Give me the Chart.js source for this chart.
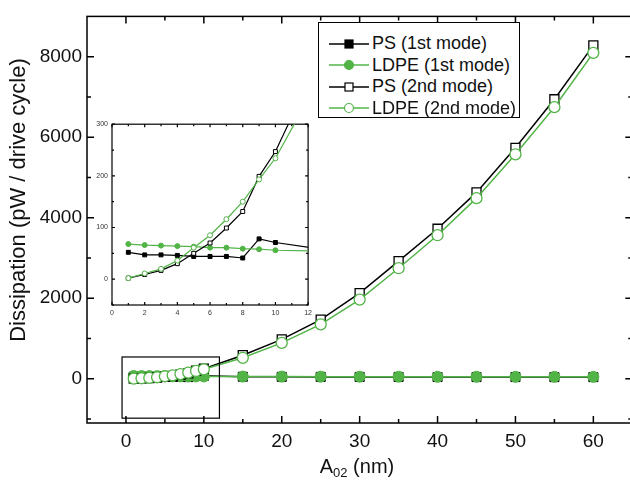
<!DOCTYPE html>
<html>
<head>
<meta charset="utf-8">
<script src="https://cdn.jsdelivr.net/npm/chart.js@4.4.0/dist/chart.umd.min.js"></script>
<style>
  html, body { margin: 0; padding: 0; background: #fff; overflow: hidden; width: 630px; height: 481px; }
  #wrap { position: relative; width: 640px; height: 481px; font-family: "Liberation Sans", Arial, sans-serif; }
  #main { position: absolute; left: 0; top: 0; }
  #inset { position: absolute; left: 90px; top: 116px; }
  #legend {
    position: absolute; left: 318px; top: 22px; width: 202px; height: 96px;
    border: 1px solid #000; box-sizing: border-box; background: #fff;
    font-size: 18px; color: #111; padding-top: 10px;
  }
  #legend .row { height: 21.5px; display: flex; align-items: center; white-space: nowrap; }
  #legend svg { margin-left: 10px; margin-right: 3px; }
  #xtitle { position: absolute; left: 288px; width: 138px; top: 455px; text-align: center; font-size: 20px; color: #111; }
  #xtitle sub { font-size: 13px; vertical-align: -4px; }
</style>
</head>
<body>
<div id="wrap">
  <canvas id="main" width="640" height="481"></canvas>
  <canvas id="inset" width="226" height="206"></canvas>
  <div id="legend"></div>
  <div id="xtitle">A<sub>02</sub> (nm)</div>
</div>
<script>
// amplitude values (nm)
const aValues = [1, 2, 3, 4, 5, 6, 7, 8, 9, 10, 15, 20, 25, 30, 35, 40, 45, 50, 55, 60];

// dissipation (pW / drive cycle)
const ps1st   = [52, 47, 47, 46, 44, 44, 44, 41, 78, 71, 48, 46, 45, 44, 43, 42, 41, 41, 40, 40];
const ldpe1st = [68, 66, 65, 64, 63, 61, 61, 59, 58, 56, 53, 52, 51, 50, 50, 49, 49, 48, 48, 47];
const ps2nd   = [2, 9, 17, 30, 50, 70, 99, 131, 199, 247, 583, 977, 1469, 2125, 2921, 3725, 4628, 5735, 6941, 8280];
const ldpe2nd = [2, 11, 20, 36, 61, 85, 116, 150, 193, 234, 520, 890, 1350, 1965, 2745, 3565, 4485, 5575, 6745, 8095];

const seriesLabels = ['PS (1st mode)', 'LDPE (1st mode)', 'PS (2nd mode)', 'LDPE (2nd mode)'];

// tick values
const xMajor = [0, 10, 20, 30, 40, 50, 60];
const xMinor = [5, 15, 25, 35, 45, 55];
const yMajor = [0, 2000, 4000, 6000, 8000];
const yMinor = [-1000, 1000, 3000, 5000, 7000];
const insetXMajor = [0, 2, 4, 6, 8, 10, 12];
const insetXMinor = [1, 3, 5, 7, 9, 11];
const insetYMajor = [0, 100, 200, 300];
const insetYMinor = [-50, 50, 150, 250];

const BLACK = '#000';
const GREEN = '#52b447';
const FONT = '"Liberation Sans", Arial, sans-serif';
Chart.defaults.font.family = FONT;

const seriesStyle = [
  { values: ps1st, color: BLACK, style: 'rect', open: false },
  { values: ldpe1st, color: GREEN, style: 'circle', open: false },
  { values: ps2nd, color: BLACK, style: 'rect', open: true },
  { values: ldpe2nd, color: GREEN, style: 'circle', open: true },
];

const makeDatasets = (count, sq, circ, lw) => seriesStyle.map((s, i) => ({
  label: seriesLabels[i],
  data: aValues.slice(0, count).map((a, k) => ({ x: a, y: s.values[k] })),
  borderColor: s.color,
  backgroundColor: s.color,
  borderWidth: lw,
  pointStyle: s.style,
  pointRadius: s.style === 'rect' ? sq : circ,
  pointBackgroundColor: s.open ? '#fff' : s.color,
  pointBorderColor: s.color,
  pointBorderWidth: s.open ? 1.3 : 1,
  tension: 0,
  order: 4 - i,
}));

const plain = (v) => String(v);

// box, inward ticks, optional zoom rectangle and rotated y title
const framePlugin = {
  id: 'frame',
  beforeDraw(chart, args, opts) {
    const { ctx, chartArea: a } = chart;
    if (opts.fill) {
      ctx.save();
      ctx.fillStyle = '#fff';
      ctx.fillRect(a.left, a.top, a.right - a.left, a.bottom - a.top);
      ctx.restore();
    }
  },
  beforeDatasetsDraw(chart, args, opts) {
    const { ctx, chartArea: a, scales: { x, y } } = chart;
    ctx.save();
    ctx.strokeStyle = '#000';
    ctx.lineWidth = opts.lw;
    ctx.strokeRect(a.left, a.top, a.right - a.left, a.bottom - a.top);
    ctx.beginPath();
    const xt = (vals, len) => vals.forEach((v) => {
      const p = x.getPixelForValue(v);
      ctx.moveTo(p, a.bottom); ctx.lineTo(p, a.bottom - len);
      ctx.moveTo(p, a.top); ctx.lineTo(p, a.top + len);
    });
    const yt = (vals, len) => vals.forEach((v) => {
      const p = y.getPixelForValue(v);
      ctx.moveTo(a.left, p); ctx.lineTo(a.left + len, p);
      ctx.moveTo(a.right, p); ctx.lineTo(a.right - len, p);
    });
    xt(opts.xMajor, opts.major); xt(opts.xMinor, opts.minor);
    yt(opts.yMajor, opts.major); yt(opts.yMinor, opts.minor);
    ctx.stroke();
    if (opts.ytitle) {
      ctx.fillStyle = '#111';
      ctx.font = `22px ${FONT}`;
      ctx.textAlign = 'center';
      ctx.textBaseline = 'middle';
      ctx.translate(opts.ytitle.x, opts.ytitle.y);
      ctx.rotate(-Math.PI / 2);
      ctx.fillText(opts.ytitle.text, 0, 0);
    }
    ctx.restore();
  },
  afterDatasetsDraw(chart, args, opts) {
    if (!opts.box) return;
    const { ctx, scales: { x, y } } = chart;
    const [x0, x1, y0, y1] = opts.box;
    ctx.save();
    ctx.strokeStyle = '#000';
    ctx.lineWidth = 1.2;
    const l = x.getPixelForValue(x0), r = x.getPixelForValue(x1);
    const t = y.getPixelForValue(y1), b = y.getPixelForValue(y0);
    ctx.strokeRect(l, t, r - l, b - t);
    ctx.restore();
  },
};

new Chart(document.getElementById('main'), {
  type: 'line',
  data: { datasets: makeDatasets(aValues.length, 6.4, 5.5, 1.5) },
  options: {
    responsive: false,
    animation: false,
    layout: { padding: { top: 12, right: 3, left: 0, bottom: 0 } },
    plugins: {
      legend: { display: false },
      tooltip: { enabled: false },
      frame: {
        lw: 1.5, major: 7, minor: 4,
        xMajor, xMinor, yMajor, yMinor,
        box: [-0.5, 12, -980, 540],
        ytitle: { text: 'Dissipation (pW / drive cycle)', x: 19, y: 200 },
      },
    },
    scales: {
      x: {
        type: 'linear', min: -5, max: 65,
        grid: { display: false, drawTicks: false },
        border: { display: false },
        afterBuildTicks: (s) => { s.ticks = xMajor.map((v) => ({ value: v })); },
        afterFit: (s) => { s.height = 58; },
        ticks: { padding: 7, color: '#111', font: { size: 19 }, maxRotation: 0, callback: plain },
      },
      y: {
        type: 'linear', min: -1100, max: 9000,
        grid: { display: false, drawTicks: false },
        border: { display: false },
        afterBuildTicks: (s) => { s.ticks = yMajor.map((v) => ({ value: v })); },
        afterFit: (s) => { s.width = 87; },
        ticks: { padding: 5, color: '#111', font: { size: 19 }, callback: plain },
      },
    },
  },
  plugins: [framePlugin],
});

new Chart(document.getElementById('inset'), {
  type: 'line',
  data: { datasets: makeDatasets(11, 2.8, 2.5, 1.2).map((d) => ({ ...d, clip: 0, pointBorderWidth: 1 })) },
  options: {
    responsive: false,
    animation: false,
    layout: { padding: { top: 6, right: 5, left: 0, bottom: 0 } },
    plugins: {
      legend: { display: false },
      tooltip: { enabled: false },
      frame: {
        lw: 1.2, major: 3, minor: 2, fill: true,
        xMajor: insetXMajor, xMinor: insetXMinor, yMajor: insetYMajor, yMinor: insetYMinor,
      },
    },
    scales: {
      x: {
        type: 'linear', min: 0, max: 12,
        grid: { display: false, drawTicks: false },
        border: { display: false },
        afterBuildTicks: (s) => { s.ticks = insetXMajor.map((v) => ({ value: v })); },
        afterFit: (s) => { s.height = 17; },
        ticks: { padding: 4, color: '#333', font: { size: 7 }, maxRotation: 0, callback: plain },
      },
      y: {
        type: 'linear', min: -50, max: 300,
        grid: { display: false, drawTicks: false },
        border: { display: false },
        afterBuildTicks: (s) => { s.ticks = insetYMajor.map((v) => ({ value: v })); },
        afterFit: (s) => { s.width = 22; },
        ticks: { padding: 4, color: '#333', font: { size: 7 }, callback: plain },
      },
    },
  },
  plugins: [framePlugin],
});

// legend
const legend = document.getElementById('legend');
seriesStyle.forEach((s, i) => {
  const marker = s.style === 'rect'
    ? `<rect x="16" y="3" width="8" height="8" fill="${s.open ? '#fff' : s.color}" stroke="${s.color}" stroke-width="1.2"/>`
    : `<circle cx="20" cy="7" r="4.5" fill="${s.open ? '#fff' : s.color}" stroke="${s.color}" stroke-width="1.2"/>`;
  const row = document.createElement('div');
  row.className = 'row';
  row.innerHTML = `<svg width="40" height="14"><line x1="0" y1="7" x2="40" y2="7" stroke="${s.color}" stroke-width="1.5"/>${marker}</svg><span>${seriesLabels[i]}</span>`;
  legend.appendChild(row);
});
</script>
</body>
</html>
